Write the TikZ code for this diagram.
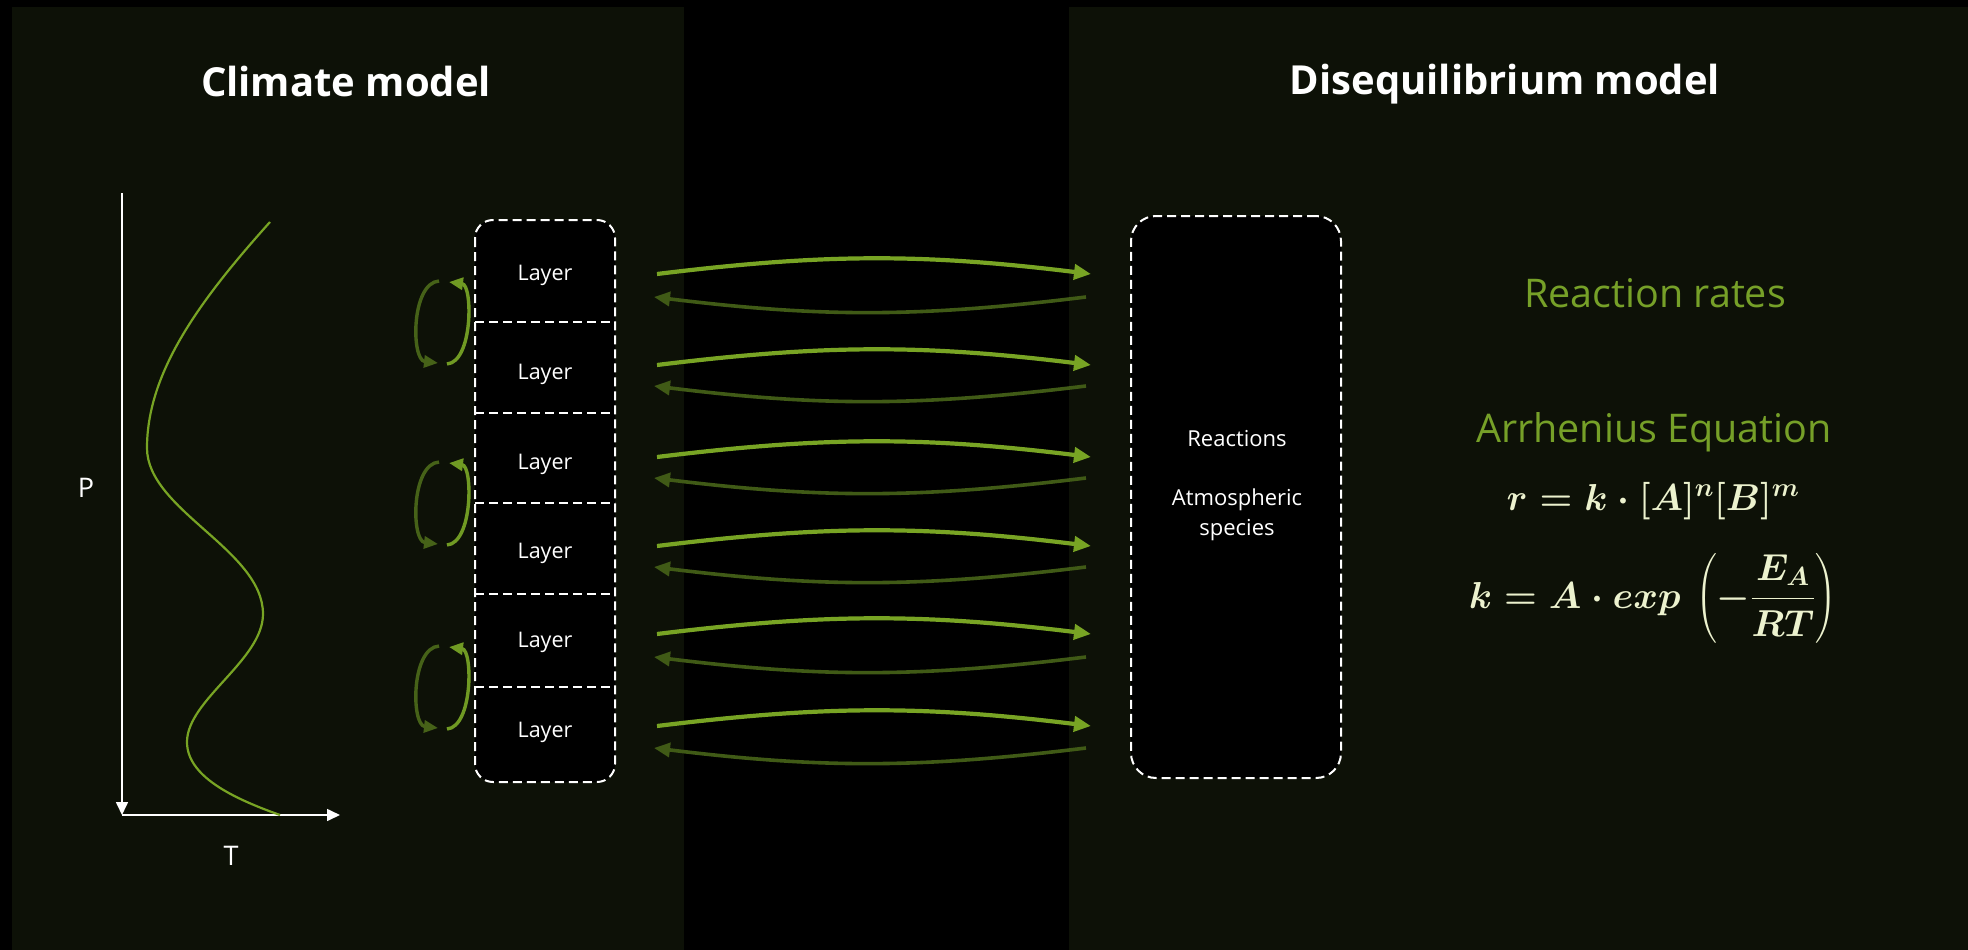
\RequirePackage{fix-cm}
\documentclass[tikz,border=0pt]{standalone}
\usepackage{amsmath}
\usepackage{fontspec}
\setmainfont{Open Sans}
\usetikzlibrary{arrows.meta,calc}

\definecolor{panelbg}{RGB}{13,17,7}
\definecolor{fwdgreen}{RGB}{120,164,36}
\definecolor{backgreen}{RGB}{64,90,22}
\definecolor{loopdark}{RGB}{70,98,24}
\definecolor{loopbright}{RGB}{112,154,35}
\definecolor{labelgreen}{RGB}{118,160,40}
\definecolor{cream}{RGB}{236,242,206}

\tikzset{
  title/.style={text=white, font=\fontsize{40}{48}\selectfont\bfseries, anchor=base},
  axislabel/.style={text=white, font=\fontsize{27}{32}\selectfont},
  axisline/.style={draw=white, line width=1.6, -{Triangle[length=13,width=12]}},
  profile/.style={draw=fwdgreen, line width=2.2},
  cell/.style={minimum width=140, inner sep=0, outer sep=0},
  layertext/.style={text=white, font=\fontsize{21.5}{26}\selectfont, anchor=base},
  dashbox/.style={draw=white, fill=black, line width=2, dash pattern=on 9 off 5},
  divider/.style={draw=white, line width=2, dash pattern=on 9 off 5},
  fwd/.style={draw=fwdgreen, line width=4.2, -{Triangle[length=17,width=15]}},
  back/.style={draw=backgreen, line width=3.6, -{Triangle[length=16,width=14]}},
  loopA/.style={draw=loopdark, line width=3.4, -{Triangle[length=14,width=12]}},
  loopB/.style={draw=loopbright, line width=3.4, -{Triangle[length=14,width=12]}},
  boxtext/.style={text=white, font=\fontsize{22}{30}\selectfont, align=center},
  greenhead/.style={text=labelgreen, font=\fontsize{39.5}{46}\selectfont, anchor=base},
  eqn/.style={text=cream, inner sep=0, anchor=base, font=\fontsize{37.5}{44}\selectfont\boldmath}
}

\begin{document}
\begin{tikzpicture}[x=1pt,y=-1pt]
  \useasboundingbox (0,0) rectangle (1968,950);
  % background and the two panels
  \fill[black] (0,0) rectangle (1968,950);
  \fill[panelbg] (12,7) rectangle (684,950);
  \fill[panelbg] (1069,7) rectangle (1968,950);

  % panel titles
  \node[title] (climate) at (346,96) {Climate model};
  \node[title] (diseq) at (1505,94) {Disequilibrium model};

  % temperature-pressure profile
  \coordinate (origin) at (122,815);
  \coordinate (ptop) at (122,193);
  \coordinate (tend) at (340,815);
  \draw[axisline] (ptop) -- (origin);
  \draw[axisline] (origin) -- (tend);
  \node[axislabel] (P) at (86,488) {P};
  \node[axislabel] (T) at (231,856) {T};
  \draw[profile] (270,222) .. controls (200,300) and (147,372) .. (147,448)
                 .. controls (147,510) and (263,550) .. (263,614)
                 .. controls (263,660) and (187,700) .. (187,742)
                 .. controls (187,776) and (232,798) .. (280,815);

  % stack of atmospheric layers
  \node[cell, minimum height=102] (cell1) at (545,271) {};
  \node[cell, minimum height=91]  (cell2) at (545,367.5) {};
  \node[cell, minimum height=90]  (cell3) at (545,458) {};
  \node[cell, minimum height=91]  (cell4) at (545,548.5) {};
  \node[cell, minimum height=93]  (cell5) at (545,640.5) {};
  \node[cell, minimum height=95]  (cell6) at (545,734.5) {};
  \draw[dashbox, rounded corners=18] (cell1.north west) rectangle (cell6.south east);
  \foreach \i in {1,...,5} {
    \draw[divider] (cell\i.south west) -- (cell\i.south east);
  }
  \foreach \i/\yb in {1/280,2/379,3/469,4/558,5/647,6/737} {
    \node[layertext] (layer\i) at (545,\yb) {Layer};
  }

  % convection loops between neighbouring layers
  \foreach \a/\b in {1/2,3/4,5/6} {
    \coordinate (k\a) at ([xshift=-33]cell\a.south west);
    \draw[loopA] ([shift={(-3,-41)}]k\a) .. controls ([shift={(-31,-39)}]k\a)
                 and ([shift={(-31,38)}]k\a) .. ([shift={(-4,41)}]k\a);
    \draw[loopB] ([shift={(5,42)}]k\a) .. controls ([shift={(31,40)}]k\a)
                 and ([shift={(31,-37)}]k\a) .. ([shift={(7,-40)}]k\a);
  }

  % disequilibrium chemistry box
  \node[dashbox, rounded corners=25, minimum width=210, minimum height=562] (R) at (1236,497) {};
  \node[boxtext] (reactions) at (1237,439) {Reactions};
  \node[boxtext] (species) at (1237,515) {Atmospheric\\species};

  % exchange between each layer and the chemistry model
  \foreach \i/\yf/\yb in {1/274/297,2/365/386,3/457/478,4/546/567,5/634/657,6/726/748} {
    \path (0,\yf) coordinate (yf\i) (0,\yb) coordinate (yb\i);
    \draw[fwd] ([xshift=42]cell\i.east |- yf\i) to[bend left=7] ([xshift=-39]R.west |- yf\i);
    \draw[back] ([xshift=-44]R.west |- yb\i) to[bend left=7] ([xshift=39]cell\i.east |- yb\i);
  }

  % rate laws
  \node[greenhead] (rates) at (1655,307) {Reaction rates};
  \node[greenhead] (arrh) at (1654,442) {Arrhenius Equation};
  \node[eqn] (eq1) at (1653,510) {$r = k\cdot[A]^n[B]^m$};
  \node[eqn] (eq2) at (1653,608) {$k = A\cdot exp\,\left(-\dfrac{E_A}{RT}\right)$};
\end{tikzpicture}
\end{document}
